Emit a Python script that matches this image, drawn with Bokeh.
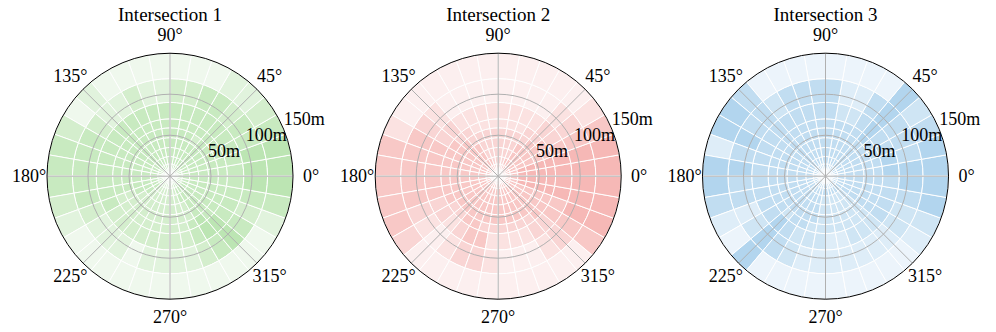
import numpy as np
from bokeh.plotting import figure
from bokeh.models import Range1d
from bokeh.embed import file_html
from bokeh.resources import INLINE
from bokeh.core.properties import value

# ---------------- data ----------------
titles = ["Intersection 1", "Intersection 2", "Intersection 3"]
radial_edges_m = [0, 9, 15, 24, 35, 47, 59, 70, 90, 119, 150]
sector_edges_deg = [0, 10, 20, 30, 40, 50, 60, 70, 80, 90, 100, 110, 120, 130, 140, 150, 160, 170,
                    180, 190, 200, 210, 220, 230, 240, 250, 260, 270, 280, 290, 300, 310, 320, 330, 340, 350, 360]
theta_ticks_deg = [0, 45, 90, 135, 180, 225, 270, 315]
theta_tick_labels = ["0°", "45°", "90°", "135°", "180°", "225°", "270°", "315°"]
r_ticks_m = [50, 100, 150]
r_tick_labels = ["50m", "100m", "150m"]

# density level (0 = lowest .. 4 = highest) per ring (inner -> outer), 36 sectors from 0° anticlockwise
green_levels = [
    "333333 333333 333333 333333 333333 333333",
    "333333 333333 333333 333322 222223 333333",
    "333333 333333 333333 333322 222223 333333",
    "333333 333333 333333 333322 222223 333333",
    "333333 333333 333333 333222 222222 333333",
    "333332 333333 333333 332222 222222 333333",
    "333333 333333 333333 332222 222223 433333",
    "333333 333333 333333 333222 222223 443333",
    "443323 322112 112333 332111 011112 343234",
    "443211 000000 010233 321000 000000 000134",
]
red_levels = [
    "333333 322223 333333 333333 333333 333333",
    "333333 322223 333333 333333 333333 333333",
    "333333 322223 333333 333333 333333 333333",
    "443333 222222 333333 333333 333333 333344",
    "443333 222222 333333 333333 333333 333344",
    "443332 222222 233333 333333 333333 333344",
    "443322 111111 223333 333223 322222 233344",
    "443221 111111 122333 332212 331111 223344",
    "443210 000000 012333 332101 221000 123444",
    "443100 000000 000133 333200 000000 003444",
]
blue_levels = [
    "333333 333333 333333 333333 333333 333333",
    "333333 333333 333333 333333 333333 333333",
    "333333 333333 333333 333333 333333 333333",
    "333333 333333 333333 333333 332222 223333",
    "333333 333333 333333 333333 332222 223333",
    "333333 333333 333333 333333 332222 223333",
    "333343 333333 333333 333323 322222 223333",
    "443343 223333 333333 333343 222112 223333",
    "433343 113333 233434 331243 211111 112234",
    "443240 000000 034414 431040 000000 001244",
]

green_palette = ["#eff8ed", "#e1f3dd", "#d4eecd", "#c8eac0", "#bce5b3"]
red_palette = ["#fcefef", "#fbe2e1", "#f9d5d4", "#f8c8c6", "#f6b8b6"]
blue_palette = ["#ecf4fb", "#deedf8", "#cfe5f4", "#c1ddf1", "#b2d5ee"]

# ---------------- layout ----------------
W, H = 990, 328
R_PX = 123.0
k = 150.0 / R_PX  # metres per pixel
centers_px = [(169.5, 175.7), (497.7, 175.7), (825.0, 175.7)]  # from top-left
FONT = value("Liberation Serif")

p = figure(width=W, height=H, output_backend="svg", toolbar_location=None,
           x_range=Range1d(0, W * k), y_range=Range1d(0, H * k), min_border=0)
p.axis.visible = False
p.grid.visible = False
p.outline_line_color = None
p.background_fill_color = "white"
p.border_fill_color = "white"

datasets = [(green_levels, green_palette), (red_levels, red_palette), (blue_levels, blue_palette)]

for (cx_px, cy_px), title, (levels, palette) in zip(centers_px, titles, datasets):
    cx, cy = cx_px * k, (H - cy_px) * k
    xs, ys, rin, rout, a0, a1, cols = [], [], [], [], [], [], []
    for ri, ring in enumerate(levels):
        vals = [int(c) for c in ring.replace(" ", "")]
        for si, v in enumerate(vals):
            xs.append(cx); ys.append(cy)
            rin.append(radial_edges_m[ri]); rout.append(radial_edges_m[ri + 1])
            a0.append(np.deg2rad(sector_edges_deg[si])); a1.append(np.deg2rad(sector_edges_deg[si + 1]))
            cols.append(palette[v])
    p.annular_wedge(x=xs, y=ys, inner_radius=rin, outer_radius=rout,
                    start_angle=a0, end_angle=a1, fill_color=cols,
                    line_color="white", line_width=1)

    # grid: radial lines
    th = np.deg2rad(theta_ticks_deg)
    p.segment(x0=[cx] * len(th), y0=[cy] * len(th),
              x1=list(cx + 150 * np.cos(th)), y1=list(cy + 150 * np.sin(th)),
              line_color="#b0b0b0", line_width=1)
    # grid circles
    p.circle(x=[cx, cx], y=[cy, cy], radius=r_ticks_m[:2], fill_color=None,
             line_color="#b0b0b0", line_width=1)
    p.circle(x=[cx], y=[cy], radius=[r_ticks_m[2]], fill_color=None,
             line_color="black", line_width=1)

    # theta labels
    lr = 141 * k
    p.text(x=list(cx + lr * np.cos(th)), y=list(cy + lr * np.sin(th)), text=theta_tick_labels,
           text_font=FONT, text_font_size="18px", text_align="center",
           text_baseline="middle", text_color="black")
    # radial labels
    ang = np.deg2rad(22.5)
    rr = np.array(r_ticks_m, dtype=float)
    p.text(x=list(cx + rr * np.cos(ang)), y=list(cy + rr * np.sin(ang)), text=r_tick_labels,
           text_font=FONT, text_font_size="18px", text_align="left",
           text_baseline="bottom", text_color="black")
    # title
    p.text(x=[cx], y=[(H - 14) * k], text=[title], text_font=FONT, text_font_size="19px",
           text_align="center", text_baseline="middle", text_color="black")

open("out.html", "w").write(file_html(p, INLINE))
